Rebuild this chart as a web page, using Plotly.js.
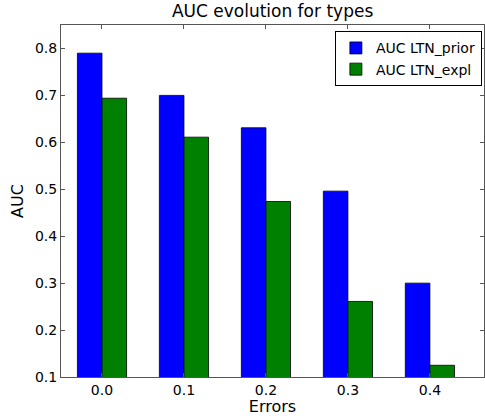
<!DOCTYPE html>
<html>
<head>
<meta charset="utf-8">
<script src="https://cdn.plot.ly/plotly-3.0.1.min.js"></script>
<style>html,body{margin:0;padding:0;background:#fff;}#chart{width:485px;height:416px;}</style>
</head>
<body>
<div id="chart"></div>
<script>
var errors = [0.0, 0.1, 0.2, 0.3, 0.4];
var aucPrior = [0.79, 0.70, 0.631, 0.496, 0.30];
var aucExpl = [0.694, 0.611, 0.474, 0.261, 0.125];
var seriesNames = ["AUC LTN_prior", "AUC LTN_expl"];
var tickLabels = ["0.0", "0.1", "0.2", "0.3", "0.4"];

var font = "DejaVu Sans, sans-serif";
var traces = [
  {type: "bar", name: seriesNames[0], x: errors, y: aucPrior, width: 0.03, offset: -0.03,
   marker: {color: "#0000ff", line: {color: "#000", width: 0.8}}},
  {type: "bar", name: seriesNames[1], x: errors, y: aucExpl, width: 0.03, offset: 0,
   marker: {color: "#008000", line: {color: "#000", width: 0.8}}}
];
var axisCommon = {
  showgrid: false, zeroline: false, showline: true, linecolor: "#555", linewidth: 1,
  mirror: "allticks", ticks: "inside", ticklen: 4, tickcolor: "#555",
  tickfont: {family: font, size: 14, color: "#000"}
};
var layout = {
  width: 485, height: 416,
  margin: {l: 61, r: 1, t: 25, b: 39},
  paper_bgcolor: "#fff", plot_bgcolor: "#fff",
  barmode: "overlay",
  title: {text: "AUC evolution for types", font: {family: font, size: 17, color: "#000"},
          x: 0.562, xanchor: "center", y: 0.988, yanchor: "top"},
  xaxis: Object.assign({}, axisCommon, {
    range: [-0.05, 0.466], tickvals: errors, ticktext: tickLabels,
    title: {text: "Errors", font: {family: font, size: 16, color: "#000"}, standoff: 2}
  }),
  yaxis: Object.assign({}, axisCommon, {
    range: [0.1, 0.85], tickvals: [0.1,0.2,0.3,0.4,0.5,0.6,0.7,0.8], tickformat: ".1f",
    title: {text: "AUC", font: {family: font, size: 16, color: "#000"}, standoff: 7}
  }),
  legend: {x: 0.995, y: 0.982, xanchor: "right", yanchor: "top",
    bordercolor: "#000", borderwidth: 1, bgcolor: "#fff",
    font: {family: font, size: 14, color: "#000"}, tracegroupgap: 2},
  showlegend: true
};
Plotly.newPlot("chart", traces, layout, {displayModeBar: false, staticPlot: true});
</script>
</body>
</html>
